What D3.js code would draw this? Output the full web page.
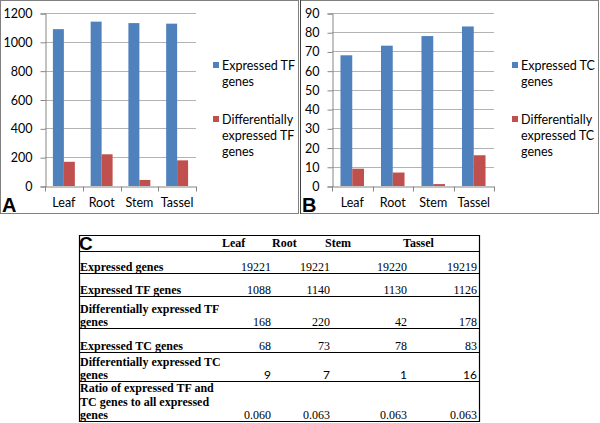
<!DOCTYPE html>
<html>
<head>
<meta charset="utf-8">
<script src="https://cdn.jsdelivr.net/npm/d3@7"></script>
<style>
  body { margin: 0; background: #fff; }
  svg { display: block; }
</style>
</head>
<body>
<svg width="600" height="423"></svg>
<script>
// ---- data ----
var categories = ["Leaf", "Root", "Stem", "Tassel"];
var tfExpressed = [1088, 1140, 1130, 1126];
var tfDiff = [168, 220, 42, 178];
var tcExpressed = [68, 73, 78, 83];
var tcDiff = [9, 7, 1, 16];
var tfTicks = [0, 200, 400, 600, 800, 1000, 1200];
var tcTicks = [0, 10, 20, 30, 40, 50, 60, 70, 80, 90];
var tfLegend = [["Expressed TF", "genes"], ["Differentially", "expressed TF", "genes"]];
var tcLegend = [["Expressed TC", "genes"], ["Differentially", "expressed TC", "genes"]];
var expressedGenes = [19221, 19221, 19220, 19219];
var ratio = [0.060, 0.063, 0.063, 0.063];
var rowLabels = [
    ["Expressed genes"],
    ["Expressed TF genes"],
    ["Differentially expressed TF", "genes"],
    ["Expressed TC genes"],
    ["Differentially expressed TC", "genes"],
    ["Ratio of expressed TF and", "TC genes to all expressed", "genes"]
];

var blue = "#4f81bd", red = "#c0504d";
var sans = "Lato, 'Open Sans', sans-serif";
var serif = "'Liberation Serif', 'Times New Roman', serif";

var svg = d3.select("svg");
svg.append("rect").attr("width", 600).attr("height", 423).attr("fill", "#fff");

// panel frames
svg.append("rect").attr("x", 0.5).attr("y", 0.5).attr("width", 298).attr("height", 213)
    .attr("fill", "none").attr("stroke", "#808080");
svg.append("rect").attr("x", 300.5).attr("y", 0.5).attr("width", 298).attr("height", 213)
    .attr("fill", "none").attr("stroke", "#808080");
svg.append("line").attr("x1", 300.5).attr("x2", 300.5).attr("y1", 0).attr("y2", 214)
    .attr("stroke", "#404040");

function drawPanel(g, o) {
    var x = d3.scaleBand().domain(categories).range([o.left, o.right]);
    var x1 = d3.scaleBand().domain([0, 1]).range([0, x.bandwidth()]).paddingOuter(0.72);
    var y = d3.scaleLinear().domain([0, d3.max(o.ticks)]).range([186, 13]);

    // gridlines
    g.selectAll(".grid").data(o.ticks.slice(1)).enter().append("line")
        .attr("x1", o.left).attr("x2", o.right)
        .attr("y1", function (d) { return Math.round(y(d)) + 0.5; })
        .attr("y2", function (d) { return Math.round(y(d)) + 0.5; })
        .attr("stroke", "#b3b3b3");

    // bars
    [o.a, o.b].forEach(function (vals, k) {
        g.selectAll(".bar" + k).data(vals).enter().append("rect")
            .attr("x", function (d, i) { return x(categories[i]) + x1(k); })
            .attr("width", x1.bandwidth())
            .attr("y", function (d) { return y(d); })
            .attr("height", function (d) { return y(0) - y(d); })
            .attr("fill", k == 0 ? blue : red);
    });

    // y axis
    var yAxis = d3.axisLeft(y).tickValues(o.ticks).tickSize(5).tickPadding(8).tickFormat(d3.format("d"));
    var ya = g.append("g").attr("transform", "translate(" + (o.left + 0.5) + ",0.5)").call(yAxis);
    ya.select(".domain").attr("stroke", "#868686");
    ya.selectAll(".tick line").attr("stroke", "#868686");
    ya.selectAll("text").attr("font-family", sans).attr("font-size", 12.5).attr("fill", "#000");

    // x axis
    var xa = g.append("g").attr("transform", "translate(0," + (y(0) + 0.5) + ")")
        .call(d3.axisBottom(x).tickSize(0).tickPadding(12));
    xa.select(".domain").attr("stroke", "#868686");
    xa.selectAll("text").attr("font-family", sans).attr("font-size", 12.5).attr("fill", "#000");
    var bounds = categories.map(function (c) { return x(c); }).concat([o.right]);
    xa.selectAll(".btick").data(bounds).enter().append("line")
        .attr("x1", function (d) { return Math.round(d) + 0.5; })
        .attr("x2", function (d) { return Math.round(d) + 0.5; })
        .attr("y1", 0).attr("y2", 5).attr("stroke", "#868686");

    // legend
    var lg = [65, 119];
    o.legend.forEach(function (lines, k) {
        g.append("rect").attr("x", o.legX).attr("y", lg[k] - 3).attr("width", 6).attr("height", 6)
            .attr("fill", k == 0 ? blue : red);
        lines.forEach(function (t, j) {
            g.append("text").attr("x", o.legX + 9).attr("y", lg[k] + 4.5 + j * 16)
                .attr("font-family", sans).attr("font-size", 12.5).text(t);
        });
    });

    // panel letter
    g.append("text").attr("x", o.letterX).attr("y", 212)
        .attr("font-family", "'Liberation Sans', Arial, sans-serif").attr("font-weight", "bold")
        .attr("font-size", 20).text(o.letter);
}

drawPanel(svg.append("g"), {
    left: 45, right: 196, ticks: tfTicks, a: tfExpressed, b: tfDiff,
    legend: tfLegend, legX: 213, letter: "A", letterX: 2
});
drawPanel(svg.append("g"), {
    left: 332, right: 494, ticks: tcTicks, a: tcExpressed, b: tcDiff,
    legend: tcLegend, legX: 512, letter: "B", letterX: 302
});

// ---- table C ----
var tL = 79, tR = 479, tTop = 235, headLine = 251;
var rowH = [22, 23, 32, 24, 29, 40];
var colRight = [271, 330, 407, 477];
var headX = [222, 272, 325, 403];
var fmtRatio = d3.format(".3f");
var rowValues = [expressedGenes, tfExpressed, tfDiff, tcExpressed, tcDiff, ratio.map(fmtRatio)];

var tg = svg.append("g");
tg.append("text").attr("x", tL).attr("y", 250)
    .attr("font-family", "'Liberation Sans', Arial, sans-serif").attr("font-weight", "bold")
    .attr("font-size", 19).text("C");
tg.selectAll(".head").data(categories).enter().append("text")
    .attr("x", function (d, i) { return headX[i]; }).attr("y", 247)
    .attr("font-family", serif).attr("font-weight", "bold").attr("font-size", 12).text(function (d) { return d; });

var lineYs = [tTop, headLine];
var yb = headLine;
rowLabels.forEach(function (lines, r) {
    yb += rowH[r];
    lineYs.push(yb);
    var base = yb - 2;
    lines.forEach(function (t, j) {
        tg.append("text").attr("x", tL + 1).attr("y", base - (lines.length - 1 - j) * 13.5)
            .attr("font-family", serif).attr("font-weight", "bold").attr("font-size", 12).text(t);
    });
    rowValues[r].forEach(function (v, c) {
        tg.append("text").attr("x", colRight[c]).attr("y", base).attr("text-anchor", "end")
            .attr("font-family", r == 4 ? sans : serif).attr("font-size", 12).text(v);
    });
});

tg.selectAll(".hl").data(lineYs).enter().append("line")
    .attr("x1", tL).attr("x2", tR + 0.5)
    .attr("y1", function (d) { return d + 0.5; }).attr("y2", function (d) { return d + 0.5; })
    .attr("stroke", "#000").attr("stroke-width", 1.2);
[tL, tR].forEach(function (xx) {
    tg.append("line").attr("x1", xx + 0.5).attr("x2", xx + 0.5).attr("y1", tTop).attr("y2", yb + 1)
        .attr("stroke", "#000").attr("stroke-width", 1.2);
});
</script>
</body>
</html>
